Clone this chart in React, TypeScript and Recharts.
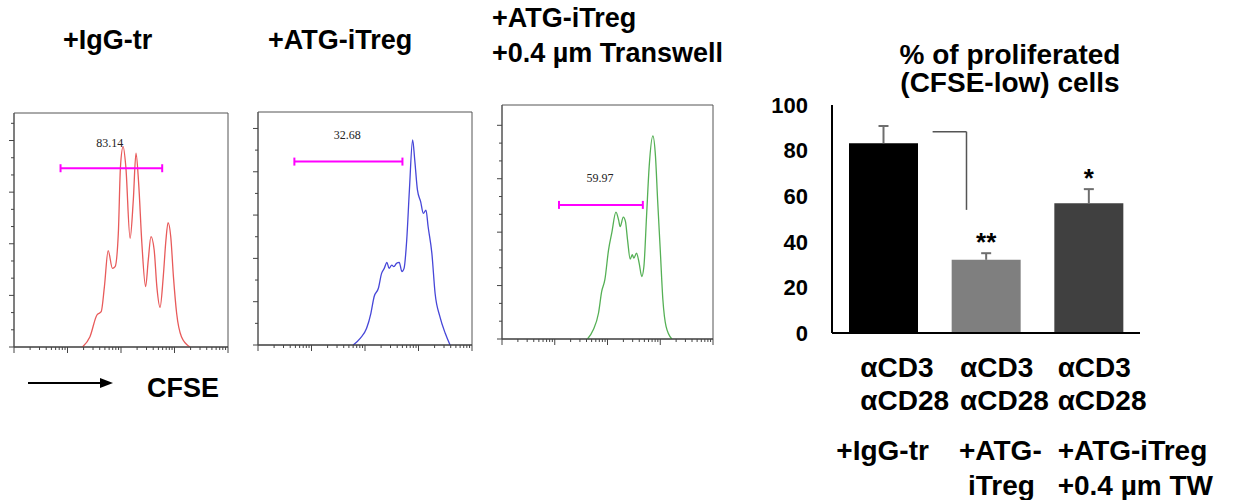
import React from 'react';
import {
  LineChart, Line, XAxis, YAxis, ReferenceLine, ReferenceArea, ReferenceDot,
  BarChart, Bar, Cell, LabelList,
} from 'recharts';

// CFSE histograms: log10 intensity (x) vs cell count (y)
const iggLog = [1.28, 1.42, 1.55, 1.63, 1.69, 1.76, 1.84, 1.89, 1.95, 1.99, 2.04, 2.09, 2.17, 2.23, 2.28, 2.33, 2.39, 2.46, 2.51, 2.56, 2.62, 2.67, 2.73, 2.79, 2.84, 2.88, 2.93, 2.98, 3.04, 3.13, 3.29];
const iggCount = [0, 6, 18.6, 20.5, 35.1, 56, 45.7, 46.7, 66.1, 104.8, 116.4, 104.8, 63.2, 85.4, 112.6, 95.1, 60.3, 35.1, 50.6, 64.1, 56.4, 35.1, 23.1, 40.9, 62.2, 72.3, 64.1, 40.9, 19.6, 6, 0];

const atgLog = [1.78, 1.91, 2.03, 2.11, 2.17, 2.25, 2.31, 2.36, 2.41, 2.45, 2.5, 2.54, 2.59, 2.64, 2.69, 2.73, 2.78, 2.83, 2.89, 2.93, 2.98, 3.04, 3.09, 3.14, 3.18, 3.25, 3.31, 3.4, 3.5, 3.59];
const atgCount = [0, 3.1, 7.7, 14.6, 22.3, 26.2, 33.1, 35.4, 38.2, 35.4, 36.9, 36.2, 37.7, 38.2, 33.9, 35.4, 48.5, 71.6, 94.7, 85.4, 71.6, 66.2, 60.8, 62.3, 54.6, 42.3, 23.9, 13.1, 5.4, 0];

const twLog = [1.62, 1.73, 1.83, 1.89, 1.95, 2.02, 2.08, 2.16, 2.21, 2.24, 2.3, 2.34, 2.38, 2.43, 2.47, 2.5, 2.55, 2.6, 2.65, 2.69, 2.74, 2.79, 2.86, 2.91, 2.95, 3.0, 3.05, 3.11, 3.22];
const twCount = [0, 5.2, 14.6, 26.7, 33.3, 50.1, 59.4, 71.2, 66.9, 63.1, 68.4, 66.0, 55.7, 44.9, 47.3, 45.4, 48.2, 42.6, 35.1, 40.7, 68.8, 96.8, 114.0, 102.4, 78.1, 50.1, 22.0, 7.1, 0];

// proliferation gate (log10 bounds), drawn at a count level, with the gated %
const gateFrom = [0.87, 0.68, 1.08];
const gateTo = [2.77, 2.7, 2.67];
const gateLevel = [103.9, 84.7, 75.3];
const gatePercent = ['83.14', '32.68', '59.97'];

const countTicksA = [0, 10, 20, 30, 40, 50, 60, 70, 80, 90, 100, 110, 120, 130];
const countTicksB = [0, 10, 20, 30, 40, 50, 60, 70, 80, 90, 100];
const countTicksC = [0, 10, 20, 30, 40, 50, 60, 70, 80, 90, 100, 110, 120];

const decades = [0, 1, 2, 3];
const multiples = [1, 2, 3, 4, 5, 6, 7, 8, 9];
const logTicks = [...decades.flatMap((d) => multiples.map((m) => d + Math.log10(m))), 4];

// bar chart: % of proliferated (CFSE-low) cells
const groups = ['IgG-tr', 'ATG-iTreg', 'ATG-iTreg TW'];
const proliferated = [83.2, 32.1, 56.9];
const proliferatedErr = [7.6, 2.9, 6.2];
const significance = ['', '**', '*'];
const percentTicks = [0, 20, 40, 60, 80, 100];
const stimLines = ['αCD3', 'αCD28'];
const treatmentLines = [['+IgG-tr'], ['+ATG-', 'iTreg'], ['+ATG-iTreg', '+0.4 µm TW']];

const SANS = "'Liberation Sans', Arial, Helvetica, sans-serif";
const barColors = ['#000000', '#7f7f7f', '#404040'];
const PAD = { left: 12, top: 6, right: 6, bottom: 12 };

const XLogTick = (props: any) => {
  const { x, y, payload } = props;
  const len = Number.isInteger(payload.value) ? 6 : 3;
  return <line x1={x} x2={x} y1={y} y2={y + len} stroke="#444" strokeWidth={1} />;
};

const makeYTick = (major: number) => (props: any) => {
  const { x, y, payload } = props;
  const len = payload.value % major === 0 ? 5 : 3;
  return <line x1={x} x2={x - len} y1={y} y2={y} stroke="#444" strokeWidth={1} />;
};

type Box = { left: number; top: number; width: number; height: number };

const Histogram = ({ idx, logs, counts, color, box, yMax, yTicks, major, labelAt }: {
  idx: number; logs: number[]; counts: number[]; color: string; box: Box;
  yMax: number; yTicks: number[]; major: number; labelAt: { x: number; y: number };
}) => {
  const data = logs.map((x, i) => ({ x, count: counts[i] }));
  const w = box.width + PAD.left + PAD.right;
  const h = box.height + PAD.top + PAD.bottom;
  const cap = (4 * yMax) / box.height;
  const lvl = gateLevel[idx];
  const gate = { stroke: '#ff00ff', strokeWidth: 2 };
  return (
    <div style={{ position: 'absolute', left: box.left - PAD.left, top: box.top - PAD.top }}>
      <LineChart width={w} height={h} data={data} margin={{ top: PAD.top, right: PAD.right, left: 0, bottom: 0 }}>
        <XAxis dataKey="x" type="number" domain={[0, 4]} ticks={logTicks} interval={0} height={PAD.bottom}
          tickSize={0} tickMargin={0} tickLine={false} tick={XLogTick} axisLine={{ stroke: '#333' }} allowDataOverflow />
        <YAxis type="number" domain={[0, yMax]} ticks={yTicks} interval={0} width={PAD.left}
          tickSize={0} tickMargin={0} tickLine={false} tick={makeYTick(major)} axisLine={{ stroke: '#555' }} allowDataOverflow />
        <ReferenceArea x1={0} x2={4} y1={0} y2={yMax} fill="none" stroke="#555" strokeWidth={1} />
        <Line type="monotone" dataKey="count" stroke={color} strokeWidth={1.3} dot={false} isAnimationActive={false} />
        <ReferenceLine segment={[{ x: gateFrom[idx], y: lvl }, { x: gateTo[idx], y: lvl }]} {...gate} />
        <ReferenceLine segment={[{ x: gateFrom[idx], y: lvl - cap }, { x: gateFrom[idx], y: lvl + cap }]} {...gate} />
        <ReferenceLine segment={[{ x: gateTo[idx], y: lvl - cap }, { x: gateTo[idx], y: lvl + cap }]} {...gate} />
        <ReferenceDot x={labelAt.x} y={labelAt.y} r={1} fill="none" stroke="none"
          label={{ value: gatePercent[idx], position: 'center', fontSize: 12, fontFamily: "'Liberation Serif', 'Times New Roman', serif", fill: '#222' }} />
      </LineChart>
    </div>
  );
};

const stimDx = [-23, -26, -31];
const treatDx = [[-47], [-27, -18], [-31, -31]];

const GroupTick = (props: any) => {
  const { x, y, payload } = props;
  const i = Math.round(payload.value - 0.5);
  if (i < 0 || i >= groups.length) return null;
  return (
    <g fontFamily={SANS} fontWeight="bold" fontSize={28} fill="#000">
      {stimLines.map((s, k) => (
        <text key={`s${k}`} x={x + stimDx[i]} y={y + 44 + k * 33}>{s}</text>
      ))}
      {treatmentLines[i].map((t, k) => (
        <text key={`t${k}`} x={x + treatDx[i][k]} y={y + 127 + k * 35}>{t}</text>
      ))}
    </g>
  );
};

// error whisker (upper only) and significance stars above each bar
const renderWhisker = (props: any) => {
  const vb = props.viewBox || props;
  const { x, y, width, height } = vb;
  const i = typeof props.index === 'number' ? props.index : proliferated.indexOf(Number(props.value));
  if (i < 0 || !height) return null;
  const cx = x + width / 2;
  const top = y - (proliferatedErr[i] * height) / proliferated[i];
  return (
    <g>
      <line x1={cx} x2={cx} y1={y} y2={top} stroke="#6e6e6e" strokeWidth={2} />
      <line x1={cx - 5} x2={cx + 5} y1={top} y2={top} stroke="#6e6e6e" strokeWidth={2} />
      {significance[i] ? (
        <text x={cx} y={top - 2} textAnchor="middle" fontFamily={SANS} fontWeight="bold" fontSize={26} fill="#000">
          {significance[i]}
        </text>
      ) : null}
    </g>
  );
};

const ProliferationBars = () => {
  // groups sit at the middle of unit slots on a numeric axis, so the bracket can use the same scale
  const data = groups.map((g, i) => ({ group: g, slot: i + 0.5, value: proliferated[i] }));
  return (
    <div style={{ position: 'absolute', left: 760, top: 85 }}>
      <BarChart width={480} height={415} data={data} margin={{ top: 20, right: 100, left: 0, bottom: 0 }}>
        <XAxis dataKey="slot" type="number" domain={[0, 3]} ticks={data.map((d) => d.slot)} interval={0}
          height={167} tickSize={0} tickMargin={0} tickLine={false} allowDataOverflow
          tick={GroupTick} axisLine={{ stroke: '#000', strokeWidth: 2 }} />
        <YAxis domain={[0, 100]} ticks={percentTicks} interval={0} width={72} tickSize={0} tickMargin={24}
          tickLine={false} axisLine={{ stroke: '#000', strokeWidth: 2 }}
          tick={{ fontSize: 22, fontWeight: 'bold', fill: '#000', fontFamily: SANS }} />
        <Bar dataKey="value" barSize={69} isAnimationActive={false}>
          {data.map((d, i) => <Cell key={d.group} fill={barColors[i]} />)}
          <LabelList dataKey="value" content={renderWhisker} />
        </Bar>
        <ReferenceLine segment={[{ x: 0.98, y: 88.3 }, { x: 1.31, y: 88.3 }]} stroke="#555" strokeWidth={1.5} />
        <ReferenceLine segment={[{ x: 1.31, y: 88.3 }, { x: 1.31, y: 54 }]} stroke="#555" strokeWidth={1.5} />
      </BarChart>
    </div>
  );
};

export default function App() {
  return (
    <div style={{ position: 'absolute', left: 0, top: 0, width: 1233, height: 500, background: '#fff', overflow: 'hidden' }}>
      <svg width={1233} height={500} style={{ position: 'absolute', left: 0, top: 0 }}>
        <g fontFamily={SANS} fontWeight="bold" fill="#000">
          <text x={63} y={49} fontSize={27}>+IgG-tr</text>
          <text x={268} y={49} fontSize={27}>+ATG-iTreg</text>
          <text x={492} y={27} fontSize={27}>+ATG-iTreg</text>
          <text x={492} y={62} fontSize={27}>+0.4 µm Transwell</text>
          <text x={147} y={397} fontSize={27}>CFSE</text>
          <text x={1010} y={64} fontSize={28} textAnchor="middle">% of proliferated</text>
          <text x={1010} y={92} fontSize={28} textAnchor="middle">(CFSE-low) cells</text>
        </g>
        <line x1={28} x2={102} y1={383} y2={383} stroke="#000" strokeWidth={2} />
        <polygon points="100,378 113,383 100,388" fill="#000" />
      </svg>
      <Histogram idx={0} logs={iggLog} counts={iggCount} color="#e85a5a"
        box={{ left: 14, top: 113, width: 214, height: 234 }} yMax={136} yTicks={countTicksA} major={30}
        labelAt={{ x: 1.79, y: 119 }} />
      <Histogram idx={1} logs={atgLog} counts={atgCount} color="#4646d8"
        box={{ left: 258, top: 112, width: 214, height: 233 }} yMax={107.6} yTicks={countTicksB} major={20}
        labelAt={{ x: 1.67, y: 97 }} />
      <Histogram idx={2} logs={twLog} counts={twCount} color="#55b055"
        box={{ left: 502, top: 105, width: 211, height: 234 }} yMax={131.4} yTicks={countTicksC} major={30}
        labelAt={{ x: 1.86, y: 90.3 }} />
      <ProliferationBars />
    </div>
  );
}
